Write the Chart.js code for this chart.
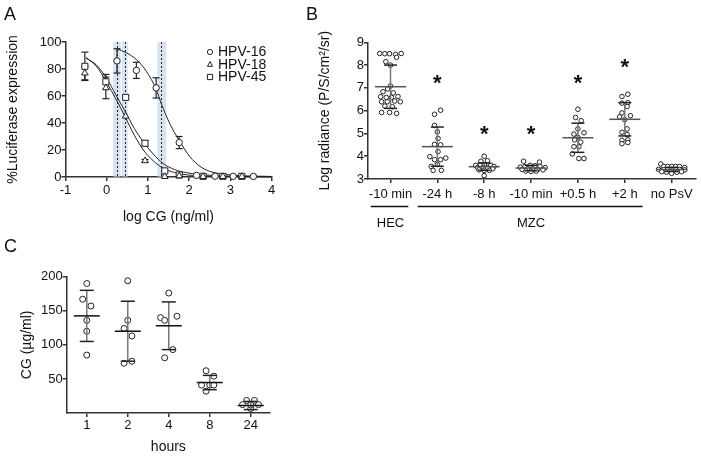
<!DOCTYPE html>
<html>
<head>
<meta charset="utf-8">
<script src="https://cdn.jsdelivr.net/npm/chart.js@4.4.1/dist/chart.umd.min.js"></script>
<style>
  html, body { margin: 0; padding: 0; background: #fff; }
  #page { position: relative; width: 701px; height: 456px; overflow: hidden; background: #fff; }
  canvas { position: absolute; }
  .tag { position: absolute; font: 18px/18px "Liberation Sans", Arial, sans-serif; color: #111; }
</style>
</head>
<body>
<div id="page">
  <canvas id="chartA" width="300" height="232" style="left:0;top:0"></canvas>
  <canvas id="chartB" width="401" height="232" style="left:300px;top:0"></canvas>
  <canvas id="chartC" width="300" height="224" style="left:0;top:232px"></canvas>
  <div class="tag" style="left:4px;top:5px">A</div>
  <div class="tag" style="left:306px;top:5px">B</div>
  <div class="tag" style="left:4px;top:237px">C</div>
</div>
<script>
// ---- panel A: luciferase vs log CG ----
const hpvNames = ['HPV-16', 'HPV-18', 'HPV-45'];

const hpv16X = [0.25, 0.72, 1.2, 1.76, 2.18, 2.63, 3.07, 3.56];
const hpv16Y = [86, 79, 66, 25.5, 1.2, 0.6, 0.5, 0.4];
const hpv16Err = [9, 6, 7.5, 4.5, 0, 0, 0, 0];

const hpv18X = [-0.53, -0.02, 0.46, 0.93, 1.41, 1.76, 2.34, 2.82, 3.28];
const hpv18Y = [77, 66, 45, 12, 0.3, 0.8, 0.3, 0.3, 0.3];
const hpv18Err = [5, 8, 0, 1, 0, 0, 0, 0, 0];

const hpv45X = [-0.53, -0.02, 0.46, 0.93, 1.41, 1.76, 2.34, 2.82, 3.28];
const hpv45Y = [82, 70.5, 59, 25, 4.5, 1.5, 0.5, 0.5, 0.5];
const hpv45Err = [10.5, 5.5, 1.5, 2, 0, 0, 0, 0, 0];

// fitted curves
const fit16X = [0.24, 0.48, 0.72, 0.97, 1.2, 1.33, 1.54, 1.76, 2.02, 2.26, 2.5, 3.0, 3.5, 4.0];
const fit16Y = [95, 92, 87, 78, 65, 54, 39, 27, 15, 8, 4.2, 1.5, 0.7, 0.4];
const fitX = [-0.5, -0.25, 0, 0.22, 0.44, 0.67, 0.89, 1.13, 1.37, 1.65, 1.94, 2.5, 3, 4];
const fit18Y = [88.5, 82, 70, 58, 45, 31, 20, 12, 6.5, 3.3, 1.6, 0.6, 0.3, 0.1];
const fit45Y = [88, 83, 73, 61, 49, 36, 26, 17, 10, 5.5, 3.2, 1.3, 0.6, 0.2];

// IC50 with confidence band (log ng/ml)
const ic50 = [1.31, 0.26, 0.44];
const ic50Lo = [1.23, 0.16, 0.37];
const ic50Hi = [1.44, 0.34, 0.51];

// ---- panel B: log radiance ----
const bLabels = ['-10 min', '-24 h', '-8 h', '-10 min', '+0.5 h', '+2 h', 'no PsV'];
const bGroups = ['HEC', 'MZC'];
const bGroupFrom = [0, 1];
const bGroupTo = [0, 5];
const bValues = [
  [8.51, 8.5, 8.5, 8.47, 8.51, 8.15, 8.34, 8.0, 7.08, 6.95, 6.83, 6.78, 6.62, 6.61, 6.58, 6.58, 6.39, 6.39, 6.42, 6.39, 6.2, 6.17, 5.92, 5.92, 5.88],
  [5.84, 6.02, 5.35, 5.07, 4.78, 4.52, 4.5, 4.2, 3.98, 3.85, 3.85, 3.92, 3.64, 3.55, 3.38, 3.38],
  [4.0, 3.78, 3.8, 3.6, 3.62, 3.62, 3.6, 3.55, 3.5, 3.5, 3.5, 3.45, 3.4, 3.38, 3.38, 3.15],
  [3.78, 3.74, 3.52, 3.55, 3.6, 3.58, 3.55, 3.5, 3.42, 3.45, 3.44, 3.42, 3.35, 3.33, 3.35, 3.4],
  [6.06, 5.7, 5.56, 5.2, 4.97, 5.03, 4.83, 4.72, 4.62, 4.42, 4.42, 4.1, 3.9, 3.9],
  [6.62, 6.72, 6.33, 6.35, 6.18, 5.9, 5.73, 5.78, 5.6, 5.2, 5.05, 4.95, 4.7, 4.72, 4.55, 4.6],
  [3.66, 3.55, 3.55, 3.55, 3.55, 3.55, 3.5, 3.42, 3.42, 3.42, 3.42, 3.42, 3.42, 3.4, 3.32, 3.3, 3.25, 3.3, 3.32]
];
// horizontal scatter of the dots within a column (category units)
const bJitter = [
  [-0.23, -0.12, -0.02, 0.11, 0.23, -0.1, 0.13, 0, 0, -0.06, -0.16, 0.06, 0.16, -0.21, -0.09, 0.02, -0.19, -0.07, 0.09, 0.21, -0.12, 0.04, -0.19, -0.02, 0.13],
  [-0.06, 0.07, -0.06, 0, 0.015, -0.06, 0.07, 0.015, -0.16, -0.06, 0.07, 0.18, 0, -0.13, -0.09, 0.085],
  [0, -0.07, 0.07, -0.18, -0.085, 0, 0.14, 0.21, -0.14, -0.02, 0.07, 0.18, -0.11, 0, 0.11, 0],
  [-0.16, 0.18, -0.23, -0.13, -0.02, 0.085, 0.19, 0.3, -0.19, -0.07, 0.035, 0.14, -0.11, 0, 0.11, 0.255],
  [0, -0.05, 0.07, 0, -0.085, 0.13, 0, -0.07, 0.06, -0.085, 0.02, -0.12, 0.02, 0.13],
  [-0.06, 0.065, -0.06, 0.065, 0.05, -0.06, -0.11, 0.12, 0, 0.05, -0.06, 0.05, -0.06, 0.065, -0.06, 0.065],
  [-0.23, -0.17, -0.085, 0, 0.085, 0.17, 0.28, -0.28, -0.17, -0.085, 0, 0.085, 0.17, 0.28, -0.21, -0.11, 0, 0.11, 0.21]
];
const bMeans = [7.05, 4.42, 3.54, 3.48, 4.81, 5.62, 3.42];
const bSds = [0.95, 0.86, 0.16, 0.12, 0.64, 0.73, 0.09];
const bStars = [null, 7.34, 5.12, 5.12, 7.34, 8.03, null];

// ---- panel C: CG (ug/ml) over time ----
const cLabels = ['1', '2', '4', '8', '24'];
const cValues = [
  [190, 167, 157, 136, 120, 85],
  [194, 136, 124, 113, 73, 76],
  [176, 140, 136, 142, 81, 93],
  [62, 54, 41, 41, 41, 32],
  [18.5, 18.5, 12.3, 12.3, 6.5, 12]
];
const cJitter = [
  [0, -0.1, 0.1, 0, 0, 0],
  [0, 0, -0.09, 0.1, -0.09, 0.1],
  [0, -0.2, -0.1, 0.2, -0.1, 0.1],
  [-0.09, 0.1, -0.2, 0, 0.1, -0.09],
  [-0.1, 0.09, -0.2, 0.19, 0, 0]
];
const cMeans = [142.5, 120, 128, 44.7, 11];
const cSds = [37.5, 44, 35, 10.5, 6];

Chart.defaults.font.family = '"Liberation Sans", Arial, sans-serif';
Chart.defaults.color = '#111';

const ink = '#222';
const axisColor = '#333';

function axisStyle(opts) {
  return Object.assign({
    border: { color: axisColor, width: 1.5 },
    grid: { drawOnChartArea: false, color: axisColor, lineWidth: 1.5, tickLength: 4 }
  }, opts);
}

function drawMarker(ctx, style, x, y, r) {
  ctx.beginPath();
  if (style === 'circle') {
    ctx.arc(x, y, r, 0, Math.PI * 2);
  } else if (style === 'triangle') {
    ctx.moveTo(x, y - r * 1.1);
    ctx.lineTo(x + r, y + r * 0.7);
    ctx.lineTo(x - r, y + r * 0.7);
    ctx.closePath();
  } else {
    ctx.rect(x - r, y - r, 2 * r, 2 * r);
  }
  ctx.fillStyle = '#fff';
  ctx.fill();
  ctx.stroke();
}

function seg(ctx, x1, y1, x2, y2) {
  ctx.beginPath();
  ctx.moveTo(x1, y1);
  ctx.lineTo(x2, y2);
  ctx.stroke();
}

// mean line + SD whiskers for dot plots
function summaryPlugin(means, sds, meanHalf, capHalf, meanColor) {
  return {
    id: 'summary',
    afterDatasetsDraw(chart) {
      const { ctx, scales: { x, y } } = chart;
      ctx.save();
      ctx.lineWidth = 1.5;
      means.forEach((m, i) => {
        const cx = x.getPixelForValue(i);
        const hi = y.getPixelForValue(m + sds[i]);
        const lo = y.getPixelForValue(m - sds[i]);
        const mid = y.getPixelForValue(m);
        ctx.strokeStyle = '#777';
        seg(ctx, cx, hi, cx, lo);
        ctx.strokeStyle = '#222';
        seg(ctx, cx - capHalf, hi, cx + capHalf, hi);
        seg(ctx, cx - capHalf, lo, cx + capHalf, lo);
        ctx.strokeStyle = meanColor;
        seg(ctx, cx - meanHalf, mid, cx + meanHalf, mid);
      });
      ctx.restore();
    }
  };
}

// ---------- A ----------
const seriesA = [
  { name: hpvNames[0], style: 'circle', r: 3.2, xs: hpv16X, ys: hpv16Y, err: hpv16Err },
  { name: hpvNames[1], style: 'triangle', r: 3.8, xs: hpv18X, ys: hpv18Y, err: hpv18Err },
  { name: hpvNames[2], style: 'rect', r: 4.3, xs: hpv45X, ys: hpv45Y, err: hpv45Err }
];
const fitsA = [[fit16X, fit16Y], [fitX, fit18Y], [fitX, fit45Y]];

const doseDecor = {
  id: 'doseDecor',
  beforeDatasetsDraw(chart) {
    const { ctx, scales: { x, y } } = chart;
    const top = y.getPixelForValue(100), bottom = y.getPixelForValue(0);
    ctx.save();
    ctx.fillStyle = 'rgba(190, 208, 232, 0.6)';
    ic50Lo.forEach((lo, i) => {
      const l = x.getPixelForValue(lo), r = x.getPixelForValue(ic50Hi[i]);
      ctx.fillRect(l, top, r - l, bottom - top);
    });
    ctx.strokeStyle = ink;
    ctx.lineWidth = 1;
    ctx.setLineDash([2, 2]);
    ic50.forEach(v => {
      const px = Math.round(x.getPixelForValue(v)) + 0.5;
      seg(ctx, px, top, px, bottom);
    });
    ctx.setLineDash([]);
    ctx.lineWidth = 1.2;
    seriesA.forEach(s => {
      s.err.forEach((e, i) => {
        if (!e) return;
        const cx = x.getPixelForValue(s.xs[i]);
        const hi = y.getPixelForValue(s.ys[i] + e), lo = y.getPixelForValue(s.ys[i] - e);
        seg(ctx, cx, hi, cx, lo);
        seg(ctx, cx - 3.5, hi, cx + 3.5, hi);
        seg(ctx, cx - 3.5, lo, cx + 3.5, lo);
      });
    });
    ctx.restore();
  },
  afterDatasetsDraw(chart) {
    const { ctx, chartArea } = chart;
    ctx.save();
    ctx.strokeStyle = ink;
    ctx.lineWidth = 1;
    ctx.font = '14px "Liberation Sans", Arial, sans-serif';
    ctx.textBaseline = 'middle';
    seriesA.forEach((s, i) => {
      const yy = chartArea.top + 10 + i * 12.5;
      drawMarker(ctx, s.style, chartArea.right - 61.5, yy, 2.6);
      ctx.fillStyle = '#111';
      ctx.fillText(s.name, chartArea.right - 53.5, yy + 0.5);
    });
    ctx.restore();
  }
};

new Chart(document.getElementById('chartA'), {
  type: 'scatter',
  data: {
    datasets: seriesA.map(s => ({
      label: s.name,
      data: s.xs.map((v, i) => ({ x: v, y: s.ys[i] })),
      pointStyle: s.style,
      pointRadius: s.r,
      borderColor: ink,
      backgroundColor: '#fff',
      borderWidth: 1,
      clip: false,
      order: 0
    })).concat(fitsA.map((f, k) => ({
      label: hpvNames[k] + ' fit',
      data: f[0].map((v, i) => ({ x: v, y: f[1][i] })),
      showLine: true,
      pointRadius: 0,
      borderColor: ink,
      borderWidth: 1,
      cubicInterpolationMode: 'monotone',
      clip: false,
      order: 1
    })))
  },
  options: {
    responsive: false,
    animation: false,
    devicePixelRatio: 1,
    layout: { padding: { top: 42, left: 0, right: 28.5, bottom: 5 } },
    plugins: { legend: { display: false }, tooltip: { enabled: false } },
    scales: {
      x: axisStyle({
        type: 'linear', min: -1, max: 4,
        ticks: { stepSize: 1, padding: 2, font: { size: 13 } },
        title: { display: true, text: 'log CG (ng/ml)', font: { size: 14 }, padding: { top: 0, bottom: 1 } },
        afterFit: s => { s.height = 50; }
      }),
      y: axisStyle({
        min: 0, max: 100,
        ticks: { stepSize: 20, padding: 0, font: { size: 13 } },
        title: { display: true, text: '%Luciferase expression', font: { size: 14 }, padding: { top: 4.6, bottom: 0 } },
        afterFit: s => { s.width = 65.5; }
      })
    }
  },
  plugins: [doseDecor]
});

// ---------- B ----------
const radianceLabels = {
  id: 'radianceLabels',
  afterDraw(chart) {
    const { ctx, chartArea, scales: { x, y } } = chart;
    ctx.save();
    ctx.fillStyle = '#111';
    ctx.textAlign = 'center';
    ctx.textBaseline = 'middle';
    ctx.font = 'bold 22px "Liberation Sans", Arial, sans-serif';
    bStars.forEach((v, i) => {
      if (v == null) return;
      ctx.fillText('*', x.getPixelForValue(i), y.getPixelForValue(v) + 4);
    });
    ctx.font = '13px "Liberation Sans", Arial, sans-serif';
    ctx.strokeStyle = '#111';
    ctx.lineWidth = 1.5;
    bGroups.forEach((g, i) => {
      const l = x.getPixelForValue(bGroupFrom[i] - 0.42);
      const r = x.getPixelForValue(bGroupTo[i] + 0.38);
      seg(ctx, l, chartArea.bottom + 27.5, r, chartArea.bottom + 27.5);
      ctx.fillText(g, x.getPixelForValue((bGroupFrom[i] + bGroupTo[i]) / 2), chartArea.bottom + 44.5);
    });
    ctx.restore();
  }
};

new Chart(document.getElementById('chartB'), {
  type: 'scatter',
  data: {
    datasets: bValues.map((vals, g) => ({
      label: bLabels[g],
      data: vals.map((v, i) => ({ x: g + bJitter[g][i], y: v })),
      pointRadius: 2.3,
      borderColor: ink,
      backgroundColor: '#fff',
      borderWidth: 1,
      clip: false
    }))
  },
  options: {
    responsive: false,
    animation: false,
    devicePixelRatio: 1,
    layout: { padding: { top: 42.3, left: 0, right: 4, bottom: 0 } },
    plugins: { legend: { display: false }, tooltip: { enabled: false } },
    scales: {
      x: axisStyle({
        type: 'linear', min: -0.48, max: 6.52,
        afterBuildTicks: s => { s.ticks = bLabels.map((_, i) => ({ value: i })); },
        ticks: { padding: 4, font: { size: 13 }, callback: v => bLabels[v] },
        afterFit: s => { s.height = 53; }
      }),
      y: axisStyle({
        min: 3, max: 9,
        ticks: { stepSize: 1, padding: 0, font: { size: 13 } },
        title: { display: true, text: 'Log radiance (P/S/cm²/sr)', font: { size: 14 }, padding: { top: 16.6, bottom: 0 } },
        afterFit: s => { s.width = 68; }
      })
    }
  },
  plugins: [summaryPlugin(bMeans, bSds, 15.5, 6.5, '#555'), radianceLabels]
});

// ---------- C ----------
new Chart(document.getElementById('chartC'), {
  type: 'scatter',
  data: {
    datasets: cValues.map((vals, g) => ({
      label: cLabels[g] + ' h',
      data: vals.map((v, i) => ({ x: g + cJitter[g][i], y: v })),
      pointRadius: 3,
      borderColor: ink,
      backgroundColor: '#fff',
      borderWidth: 1,
      clip: false
    }))
  },
  options: {
    responsive: false,
    animation: false,
    devicePixelRatio: 1,
    layout: { padding: { top: 44.7, left: 0, right: 30, bottom: 0 } },
    plugins: { legend: { display: false }, tooltip: { enabled: false } },
    scales: {
      x: axisStyle({
        type: 'linear', min: -0.49, max: 4.47,
        afterBuildTicks: s => { s.ticks = cLabels.map((_, i) => ({ value: i })); },
        ticks: { padding: 1, font: { size: 13 }, callback: v => cLabels[v] },
        title: { display: true, text: 'hours', font: { size: 14 }, padding: { top: 0, bottom: 0.9 } },
        afterFit: s => { s.height = 43; }
      }),
      y: axisStyle({
        min: 0, max: 200,
        afterBuildTicks: s => { s.ticks = [50, 100, 150, 200].map(v => ({ value: v })); },
        ticks: { padding: 0, font: { size: 13 } },
        title: { display: true, text: 'CG (µg/ml)', font: { size: 14 }, padding: { top: 19, bottom: 0 } },
        afterFit: s => { s.width = 66.7; }
      })
    }
  },
  plugins: [summaryPlugin(cMeans, cSds, 13, 7, '#111')]
});
</script>
</body>
</html>
